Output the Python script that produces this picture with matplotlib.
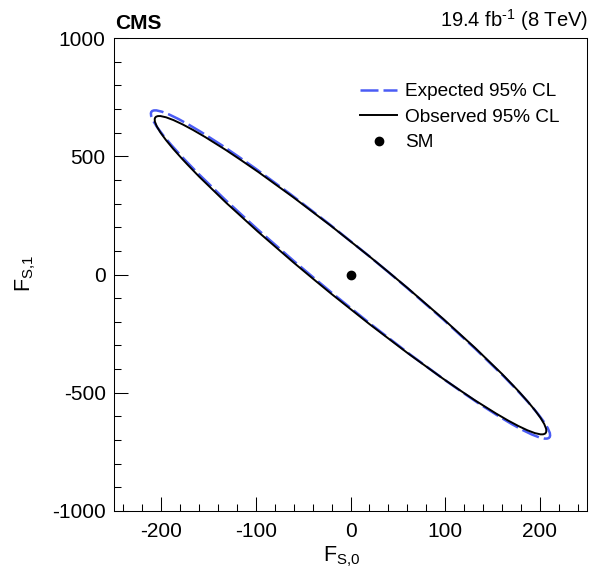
import numpy as np
import matplotlib.pyplot as plt
from matplotlib.patches import Ellipse
from matplotlib.lines import Line2D

plt.rcParams['font.family'] = ['Liberation Sans', 'DejaVu Sans']
plt.rcParams['mathtext.fontset'] = 'custom'
plt.rcParams['mathtext.rm'] = 'Liberation Sans'
plt.rcParams['mathtext.it'] = 'Liberation Sans:italic'
plt.rcParams['mathtext.bf'] = 'Liberation Sans:bold'
plt.rcParams['axes.unicode_minus'] = False

# SM expectation
sm_point = [0.0, 0.0]

# 95% CL contours: centre, half extent along F_S,0 / F_S,1, correlation
exp_center = [0.0, 0.0]
exp_half_x = 211
exp_half_y = 694
exp_corr = -0.979

obs_center = [0.0, -3.0]
obs_half_x = 207
obs_half_y = 673
obs_corr = -0.977

blue = '#4a5cf5'


def contour_patch(center, sx, sy, rho, **kw):
    # ellipse x^T C^-1 x = 1 drawn as a patch in data coordinates
    cov = np.array([[sx**2, rho * sx * sy], [rho * sx * sy, sy**2]])
    vals, vecs = np.linalg.eigh(cov)
    angle = np.degrees(np.arctan2(vecs[1, 1], vecs[0, 1]))
    return Ellipse(center, 2 * np.sqrt(vals[1]), 2 * np.sqrt(vals[0]),
                   angle=angle, fill=False, **kw)


fig = plt.figure(figsize=(6.07, 5.69), dpi=100)
ax = fig.add_axes([114 / 607, 1 - 511 / 569, 473 / 607, 473 / 569])

ax.add_patch(contour_patch(exp_center, exp_half_x, exp_half_y, exp_corr,
                           edgecolor=blue, lw=1.8, linestyle=(0, (7.2, 2.0))))
ax.add_patch(contour_patch(obs_center, obs_half_x, obs_half_y, obs_corr,
                           edgecolor='black', lw=1.4))
ax.plot(sm_point[0], sm_point[1], 'o', color='black', ms=6)

ax.set_xlim(-250, 250)
ax.set_ylim(-1000, 1000)
ax.set_xticks(np.arange(-200, 201, 100))
ax.set_xticks(np.arange(-240, 241, 20), minor=True)
ax.set_yticks(np.arange(-1000, 1001, 500))
ax.set_yticks(np.arange(-1000, 1001, 100), minor=True)
ax.tick_params(which='both', direction='in', top=False, right=False, width=0.75, labelsize=15)
ax.tick_params(which='major', length=10)
ax.tick_params(which='minor', length=5)
ax.tick_params(axis='x', pad=8)
ax.tick_params(axis='y', pad=6)
for s in ax.spines.values():
    s.set_linewidth(0.75)

ax.set_xlabel(r'F$_{\text{S,0}}$', fontsize=15.5)
ax.set_ylabel(r'F$_{\text{S,1}}$', fontsize=15.5)
ax.xaxis.set_label_coords(0.481, -0.071)
ax.yaxis.set_label_coords(-0.16, 0.503)

handles = [
    Line2D([], [], color=blue, lw=1.8, linestyle=(0, (7.2, 2.0))),
    Line2D([], [], color='black', lw=1.4),
    Line2D([], [], color='black', marker='o', ms=6, linestyle='None'),
]
labels = ['Expected 95% CL', 'Observed 95% CL', 'SM']
fig.legend(handles, labels, loc='upper left', bbox_to_anchor=(360 / 607, 1 - 83 / 569),
           frameon=False, fontsize=13.7, borderpad=0, borderaxespad=0,
           handlelength=1.95, handletextpad=0.42, labelspacing=0.43)

fig.text(115 / 607, 1 - 29 / 569, 'CMS', fontsize=15, fontweight='bold',
         ha='left', va='baseline')
fig.text(588 / 607, 1 - 27 / 569, r'19.4 fb$^{\text{-1}}$ (8 TeV)', fontsize=14.5,
         ha='right', va='baseline')

fig.savefig('out.png', dpi=100)
